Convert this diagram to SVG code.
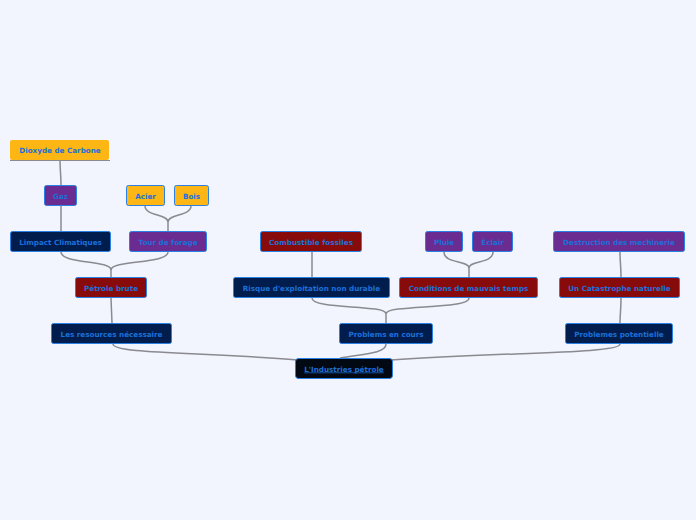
<svg xmlns="http://www.w3.org/2000/svg" width="696" height="520" viewBox="0 0 696 520">
<style>
.bg{fill:#f2f5fe}
.n rect{stroke:#2b80e4;stroke-width:1}
.navy{fill:#001d4e}
.purple{fill:#6a2c90}
.red{fill:#870b0b}
.orange{fill:#fdb614}
.root{fill:#030913}
text{font-family:"DejaVu Sans",Verdana,sans-serif;font-weight:bold;font-size:7.2px;fill:#1d6fd8;text-anchor:middle}
.c path{fill:none;stroke:#8a8a90;stroke-width:1.5}
</style>
<rect class="bg" x="0" y="0" width="696" height="520"/>
<g class="c">
<path d="M61,185 C61,175 60,170 60,160"/>
<path d="M61,231 L61,206"/>
<path d="M145,206 C145,216 168,214 168,222 L168,231"/>
<path d="M191,206 C191,216 168,214 168,222"/>
<path d="M61,252 C61,264 111,260 111,270 L111,277"/>
<path d="M168,252 C168,264 111,260 111,270"/>
<path d="M111,298 L112,323"/>
<path d="M113,344 C113,354 200,352 298,360"/>
<path d="M386,344 C386,354 360,354 340,358"/>
<path d="M620,344 C620,354 500,352 391,360"/>
<path d="M312,252 L312,277"/>
<path d="M444,252 C444,264 469,260 469,268 L469,277"/>
<path d="M493,252 C493,264 469,260 469,268"/>
<path d="M312,298 C312,310 386,304 386,314 L386,323"/>
<path d="M469,298 C469,310 386,304 386,314"/>
<path d="M620,252 C620,262 621,266 621,277"/>
<path d="M621,298 C621,310 620,314 620,323"/>
</g>
<g id="dioxyde">
<rect class="orange" x="10" y="140" width="99" height="20" rx="2"/>
<line x1="10" y1="160.5" x2="110" y2="160.5" stroke="#8a8a90" stroke-width="1"/>
<text x="60" y="153">Dioxyde de Carbone</text>
</g>
<g id="gaz" class="n"><rect class="purple" x="44.5" y="185.5" width="32" height="20" rx="2"/><text x="60.5" y="198.5">Gaz</text></g>
<g id="acier" class="n"><rect class="orange" x="126.5" y="185.5" width="38" height="20" rx="2"/><text x="145.5" y="198.5">Acier</text></g>
<g id="bois" class="n"><rect class="orange" x="174.5" y="185.5" width="34" height="20" rx="2"/><text x="191.5" y="198.5">Bois</text></g>
<g id="limpact" class="n"><rect class="navy" x="10.5" y="231.5" width="100" height="20" rx="2"/><text x="60.5" y="244.5">Limpact Climatiques</text></g>
<g id="tour" class="n"><rect class="purple" x="129.5" y="231.5" width="77" height="20" rx="2"/><text x="168" y="244.5">Tour de forage</text></g>
<g id="combustible" class="n"><rect class="red" x="260.5" y="231.5" width="101" height="20" rx="2"/><text x="311" y="244.5">Combustible fossiles</text></g>
<g id="pluie" class="n"><rect class="purple" x="425.5" y="231.5" width="37" height="20" rx="2"/><text x="444" y="244.5">Pluie</text></g>
<g id="eclair" class="n"><rect class="purple" x="472.5" y="231.5" width="40" height="20" rx="2"/><text x="492.5" y="244.5">Éclair</text></g>
<g id="destruction" class="n"><rect class="purple" x="553.5" y="231.5" width="131" height="20" rx="2"/><text x="619" y="244.5">Destruction des mechinerie</text></g>
<g id="petrole" class="n"><rect class="red" x="75.5" y="277.5" width="71" height="20" rx="2"/><text x="111" y="290.5">Pétrole brute</text></g>
<g id="risque" class="n"><rect class="navy" x="233.5" y="277.5" width="156" height="20" rx="2"/><text x="311.5" y="290.5">Risque d'exploitation non durable</text></g>
<g id="conditions" class="n"><rect class="red" x="399.5" y="277.5" width="138" height="20" rx="2"/><text x="468.5" y="290.5">Conditions de mauvais temps</text></g>
<g id="catastrophe" class="n"><rect class="red" x="559.5" y="277.5" width="120" height="20" rx="2"/><text x="619.5" y="290.5">Un Catastrophe naturelle</text></g>
<g id="resources" class="n"><rect class="navy" x="51.5" y="323.5" width="120" height="20" rx="2"/><text x="111.5" y="336.5">Les resources nécessaire</text></g>
<g id="problems" class="n"><rect class="navy" x="339.5" y="323.5" width="93" height="20" rx="2"/><text x="386" y="336.5">Problems en cours</text></g>
<g id="potentielle" class="n"><rect class="navy" x="565.5" y="323.5" width="107" height="20" rx="2"/><text x="619" y="336.5">Problemes potentielle</text></g>
<g id="industries" class="n"><rect class="root" x="295.5" y="358.5" width="97" height="20" rx="3"/><text x="344" y="371.5" text-decoration="underline">L'Industries pétrole</text></g>
</svg>
